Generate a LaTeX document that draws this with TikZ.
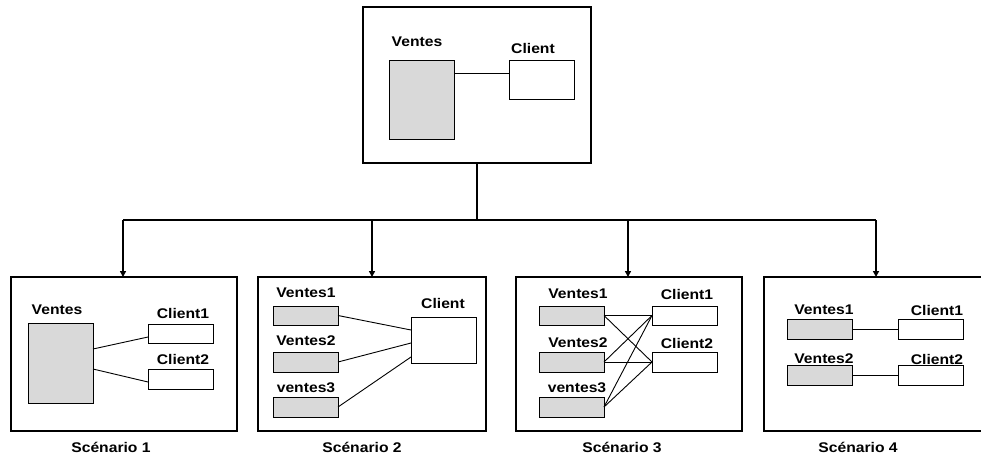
\documentclass[tikz,border=0pt]{standalone}
\usepackage{fontspec}
\setmainfont{Liberation Sans}
\usetikzlibrary{arrows.meta}
\definecolor{vg}{RGB}{217,217,217}
\newcommand{\wtxt}[1]{\scalebox{1.12}[1]{#1}}
\begin{document}
\begin{tikzpicture}[x=1pt,y=-1pt,
  frame/.style={draw, line width=1.5pt, anchor=north west, inner sep=0pt, outer sep=0pt, fill=white},
  vbox/.style={draw, fill=vg, line width=0.8pt, anchor=north west, inner sep=0pt, outer sep=0pt},
  cbox/.style={draw, fill=white, line width=0.8pt, anchor=north west, inner sep=0pt, outer sep=0pt},
  lbl/.style={font=\bfseries\fontsize{14}{14}\selectfont, inner sep=0pt},
  link/.style={line width=0.9pt},
  trunk/.style={line width=2.4pt},
  branch/.style={line width=1.5pt, -{Triangle[length=6pt,width=6pt]}},
]
\useasboundingbox (0,0) rectangle (981,455);

% top box
\node[frame, minimum width=228pt, minimum height=156pt] (top) at (363,7) {};
\node[vbox, minimum width=65pt, minimum height=79pt] (tv) at (389,60) {};
\node[cbox, minimum width=65pt, minimum height=39pt] (tc) at (509,60) {};
\node[lbl] (tvl) at (417,42) {\wtxt{Ventes}};
\node[lbl] (tcl) at (533,48) {\wtxt{Client}};
\draw[link] (tv.east |- 0,73) -- (tc.west |- 0,73);

% scenario frames
\node[frame, minimum width=226pt, minimum height=154pt] (s1) at (11,277) {};
\node[frame, minimum width=228pt, minimum height=154pt] (s2) at (258,277) {};
\node[frame, minimum width=226pt, minimum height=154pt] (s3) at (516,277) {};
\node[frame, minimum width=230pt, minimum height=154pt] (s4) at (764,277) {};

% connectors
\coordinate (j) at (477,220);
\coordinate (jl) at (123,220);
\coordinate (jr) at (876,220);
\draw[trunk] (top.south -| j) -- (j);
\draw[trunk] (jl) -- (jr);
\draw[branch] (jl) -- (jl |- s1.north);
\draw[branch] (372,220) -- (372,277);
\draw[branch] (628,220) -- (628,277);
\draw[branch] (jr) -- (jr |- s4.north);

% scenario 1
\node[vbox, minimum width=65pt, minimum height=80pt] (a1v) at (28,323) {};
\node[cbox, minimum width=65pt, minimum height=19pt] (a1c1) at (148,324) {};
\node[cbox, minimum width=65pt, minimum height=20pt] (a1c2) at (148,369) {};
\node[lbl] at (57,310) {\wtxt{Ventes}};
\node[lbl] at (183,313) {\wtxt{Client1}};
\node[lbl] at (183,359) {\wtxt{Client2}};
\draw[link] (a1v.east |- 0,349) -- (a1c1.west |- 0,337);
\draw[link] (a1v.east |- 0,369) -- (a1c2.west |- 0,382);
\node[lbl] at (111,447) {\wtxt{Scénario 1}};

% scenario 2
\node[vbox, minimum width=65pt, minimum height=19pt] (b1) at (273,306) {};
\node[vbox, minimum width=65pt, minimum height=20pt] (b2) at (273,352) {};
\node[vbox, minimum width=65pt, minimum height=20pt] (b3) at (273,397) {};
\node[cbox, minimum width=65pt, minimum height=46pt] (bc) at (411,317) {};
\node[lbl] at (306,293) {\wtxt{Ventes1}};
\node[lbl] at (306,341) {\wtxt{Ventes2}};
\node[lbl] at (306,388) {\wtxt{ventes3}};
\node[lbl] at (443,303) {\wtxt{Client}};
\draw[link] (b1.east) -- (bc.west |- 0,330);
\draw[link] (b2.east) -- (bc.west |- 0,343);
\draw[link] (b3.east) -- (bc.west |- 0,357);
\node[lbl] at (362,447) {\wtxt{Scénario 2}};

% scenario 3
\node[vbox, minimum width=65pt, minimum height=19pt] (c1) at (539,306) {};
\node[vbox, minimum width=65pt, minimum height=20pt] (c2) at (539,352) {};
\node[vbox, minimum width=65pt, minimum height=20pt] (c3) at (539,397) {};
\node[cbox, minimum width=65pt, minimum height=19pt] (cc1) at (652,306) {};
\node[cbox, minimum width=65pt, minimum height=20pt] (cc2) at (652,352) {};
\node[lbl] at (578,294) {\wtxt{Ventes1}};
\node[lbl] at (578,343) {\wtxt{Ventes2}};
\node[lbl] at (577,388) {\wtxt{ventes3}};
\node[lbl] at (687,294) {\wtxt{Client1}};
\node[lbl] at (687,343) {\wtxt{Client2}};
\draw[link] (c1.east) -- (cc1.west);
\draw[link] (c1.east) -- (cc2.west);
\draw[link] (c2.east) -- (cc1.west);
\draw[link] (c2.east) -- (cc2.west);
\draw[link] (c3.east) -- (cc1.west);
\draw[link] (c3.east) -- (cc2.west);
\node[lbl] at (622,447) {\wtxt{Scénario 3}};

% scenario 4
\node[vbox, minimum width=65pt, minimum height=20pt] (d1) at (787,319) {};
\node[vbox, minimum width=65pt, minimum height=20pt] (d2) at (787,365) {};
\node[cbox, minimum width=65pt, minimum height=20pt] (dc1) at (898,319) {};
\node[cbox, minimum width=65pt, minimum height=20pt] (dc2) at (898,365) {};
\node[lbl] at (824,310) {\wtxt{Ventes1}};
\node[lbl] at (824,359) {\wtxt{Ventes2}};
\node[lbl] at (937,310) {\wtxt{Client1}};
\node[lbl] at (937,359) {\wtxt{Client2}};
\draw[link] (d1.east) -- (dc1.west);
\draw[link] (d2.east) -- (dc2.west);
\node[lbl] at (858,447) {\wtxt{Scénario 4}};
\end{tikzpicture}
\end{document}
